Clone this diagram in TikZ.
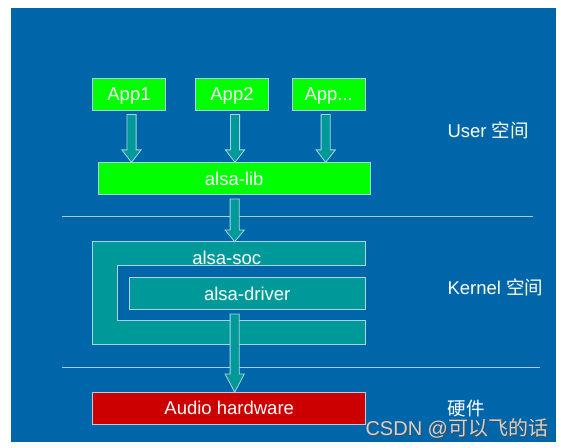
\documentclass[tikz,border=0pt]{standalone}
\usepackage{fontspec}
\setmainfont{Liberation Sans}
\newfontfamily\cjk{Noto Sans CJK SC}
\usepackage{tikz}
\usetikzlibrary{calc}

\definecolor{slidebg}{RGB}{0,102,170}
\definecolor{appgreen}{RGB}{0,255,0}
\definecolor{socteal}{RGB}{0,153,153}
\definecolor{hwred}{RGB}{204,0,0}
\definecolor{edgeclr}{RGB}{170,210,225}
\definecolor{sepclr}{RGB}{170,205,235}

\tikzset{
  box/.style={draw=edgeclr,line width=0.8pt,inner sep=0pt,text=white,
    text height=13.3pt,text depth=0pt,
    font=\fontsize{18.5}{20}\selectfont},
  greenbox/.style={box,fill=appgreen},
  tealbox/.style={box,fill=socteal},
  redbox/.style={box,fill=hwred},
  layer/.style={text=white,anchor=west,font=\fontsize{18.5}{20}\selectfont},
  blockarr/.style={fill=socteal,draw=edgeclr,line width=0.8pt},
}

% block arrow: from, to, head length
\newcommand\blockarrow[3]{%
  \filldraw[blockarr] ($(#1)+(-4.6,0)$) -- ($(#1)+(4.6,0)$) -- ($(#2)+(4.6,-#3)$)
    -- ($(#2)+(9.6,-#3)$) -- (#2) -- ($(#2)+(-9.6,-#3)$) -- ($(#2)+(-4.6,-#3)$) -- cycle;}

\begin{document}
\begin{tikzpicture}[x=1pt,y=-1pt]

\useasboundingbox (0,0) rectangle (561,447);
\fill[slidebg] (11,8) rectangle (556,442);

% layer borders
\draw[sepclr,line width=0.9pt] (62,216.7) -- (533,216.7);
\draw[sepclr,line width=0.9pt] (62,367.7) -- (540,367.7);

% user space
\node[greenbox,minimum width=73.4,minimum height=31.7] (app1) at (129,94.2) {App1};
\node[greenbox,minimum width=72.6,minimum height=31.7] (app2) at (232,94.2) {App2};
\node[greenbox,minimum width=72.7,minimum height=31.7] (app3) at (328.7,94.2) {App...};
\node[greenbox,minimum width=271.7,minimum height=31.3] (lib) at (234.2,178.4) {alsa-lib};

% kernel space
\filldraw[tealbox] (92.7,241.7) -- (365.7,241.7) -- (365.7,265.7) -- (117.3,265.7)
  -- (117.3,320) -- (365.7,320) -- (365.7,344.3) -- (92.7,344.3) -- cycle;
\node[text=white,text height=13.3pt,text depth=0pt,inner sep=0pt,
  font=\fontsize{18.5}{20}\selectfont] (soc) at (226.7,257.7) {alsa-soc};
\coordinate (soctop) at (234.7,241.7);
\node[tealbox,minimum width=236.3,minimum height=31.6] (driver) at (247.2,293.5) {alsa-driver};

% hardware
\node[redbox,minimum width=273,minimum height=31.3] (hw) at (229.2,408.3) {Audio hardware};

% arrows
\coordinate (a1s) at ($(app1.south)+(2.5,4)$);
\coordinate (a2s) at ($(app2.south)+(3,4)$);
\coordinate (a3s) at ($(app3.south)+(-3,4)$);
\blockarrow{a1s}{a1s |- lib.north}{12.5}
\blockarrow{a2s}{a2s |- lib.north}{12.5}
\blockarrow{a3s}{a3s |- lib.north}{12.5}
\coordinate (ls) at (soctop |- 0,199);
\blockarrow{ls}{soctop}{11.7}
\coordinate (ds) at (soctop |- 0,314);
\blockarrow{ds}{ds |- hw.north}{18.3}

% layer names
\node[layer] (user) at (444,130) {User {\cjk 空间}};
\node[layer] (kernel) at (444,287.7) {Kernel {\cjk 空间}};
\node[layer] (hwname) at (444,409) {\cjk 硬件};

% watermark
\node[anchor=west,text=black!70,font=\fontsize{20}{22}\selectfont] at (363,429) {CSDN @{\cjk 可以飞的话}};
\node[anchor=west,text=black!18,font=\fontsize{20}{22}\selectfont] (mark) at (362,428) {CSDN @{\cjk 可以飞的话}};

\end{tikzpicture}
\end{document}
